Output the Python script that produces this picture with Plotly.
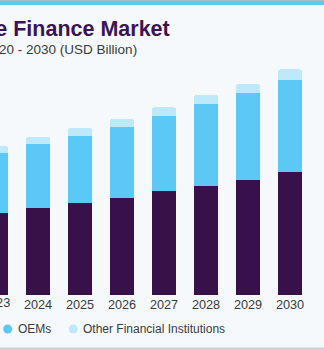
import plotly.graph_objects as go

# U.S. automotive finance market by provider (USD Billion)
years = [2023, 2024, 2025, 2026, 2027, 2028, 2029, 2030]
banks = [82.3, 87.0, 92.0, 97.0, 103.7, 109.0, 115.0, 122.7]
oems = [60.0, 64.0, 67.3, 71.3, 75.6, 81.7, 87.3, 92.3]
other_fi = [6.7, 7.0, 7.7, 7.7, 8.4, 9.3, 8.7, 10.7]

series_names = ["Banks", "OEMs", "Other Financial Institutions"]
series_colors = ["#38104A", "#5BC8F5", "#BDE9FA"]

title_text = "U.S. Automotive Finance Market"
subtitle_text = "size, by provider, 2020 - 2030 (USD Billion)"

W, H = 324, 350
M_TOP, M_BOT = 55, 55
PLOT_H = H - M_TOP - M_BOT
PX_PER_YEAR = 42.0
FIRST_FULL_CENTER = 38.0  # px position of the 2024 bar centre

x0 = 2024 - FIRST_FULL_CENTER / PX_PER_YEAR
x1 = x0 + W / PX_PER_YEAR

BG = "#F5F9FC"
TEXT = "#3A3A3A"
FONT = "Liberation Sans, Arial, sans-serif"


def px_x(px):
    return px / W


def px_y(py):
    return (H - M_BOT - py) / PLOT_H


fig = go.Figure()
for name, vals, col in zip(series_names, [banks, oems, other_fi], series_colors):
    fig.add_trace(go.Bar(
        x=years, y=vals, name=name, marker=dict(color=col, line=dict(width=0)),
        width=24 / PX_PER_YEAR, showlegend=False,
    ))

annotations = []
shapes = []

# title block, right-aligned so the long prefix runs off the left edge
annotations.append(dict(
    text="<b>" + title_text + "</b>", xref="paper", yref="paper",
    x=px_x(171.5), y=px_y(29), xanchor="right", yanchor="middle", showarrow=False,
    font=dict(family=FONT, size=21.5, color="#3B1454"),
))
annotations.append(dict(
    text=subtitle_text, xref="paper", yref="paper",
    x=px_x(139), y=px_y(49), xanchor="right", yanchor="middle", showarrow=False,
    font=dict(family=FONT, size=13.5, color=TEXT),
))

# label for the year whose tick sits just left of the visible axis range
annotations.append(dict(
    text=str(years[0]), xref="paper", yref="paper",
    x=(years[0] - x0) / (x1 - x0), y=px_y(303), xanchor="center", yanchor="middle",
    showarrow=False, font=dict(family=FONT, size=12.7, color=TEXT),
))

# legend row
legend_marker_px = [-61, 7.7, 73.3]
legend_text_px = [-50, 18.3, 83.3]
legend_y = 329
for name, col, mx, tx in zip(series_names, series_colors, legend_marker_px, legend_text_px):
    shapes.append(dict(
        type="circle", xref="paper", yref="paper", xsizemode="pixel", ysizemode="pixel",
        xanchor=px_x(mx), yanchor=px_y(legend_y), x0=-4.5, x1=4.5, y0=-4.5, y1=4.5,
        fillcolor=col, line=dict(width=0),
    ))
    annotations.append(dict(
        text=name, xref="paper", yref="paper", x=px_x(tx - 2), y=px_y(legend_y),
        xanchor="left", yanchor="middle", showarrow=False,
        font=dict(family=FONT, size=12, color=TEXT),
    ))

# accent stripe on top and rule at the bottom
shapes.append(dict(type="rect", xref="paper", yref="paper", x0=0, x1=1,
                   y0=px_y(5), y1=px_y(0), fillcolor="#5BC8F5", line=dict(width=0),
                   layer="below"))
shapes.append(dict(type="rect", xref="paper", yref="paper", x0=0, x1=1,
                   y0=px_y(1), y1=px_y(0), fillcolor="#A9BCC8", line=dict(width=0),
                   layer="below"))
shapes.append(dict(type="rect", xref="paper", yref="paper", x0=0, x1=1,
                   y0=px_y(H), y1=px_y(347.5), fillcolor="#CFCFCF", line=dict(width=0),
                   layer="below"))

fig.update_layout(
    width=W, height=H,
    margin=dict(l=0, r=0, t=M_TOP, b=M_BOT, pad=0),
    barmode="stack",
    barcornerradius=3,
    paper_bgcolor=BG, plot_bgcolor=BG,
    showlegend=False,
    annotations=annotations,
    shapes=shapes,
    xaxis=dict(
        range=[x0, x1], tickmode="array", tickvals=years, ticktext=[str(y) for y in years],
        showgrid=False, zeroline=False, showline=False, ticks="",
        tickfont=dict(family=FONT, size=12.7, color=TEXT), fixedrange=True,
    ),
    yaxis=dict(range=[0, PLOT_H], visible=False, fixedrange=True),
)

fig.write_html("out.html", config=dict(displayModeBar=False))
